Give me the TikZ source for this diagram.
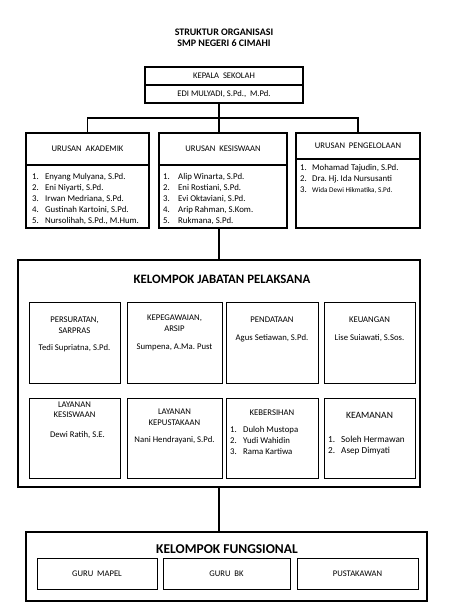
\documentclass[tikz,border=0pt]{standalone}
\usepackage{fontspec}
\setmainfont{Carlito}
\usetikzlibrary{positioning}

\begin{document}
\begin{tikzpicture}[x=1pt, y=-1pt,
      ttl/.style={font=\fontsize{10}{11}\selectfont\bfseries, align=center,
        inner sep=0pt},
      grp/.style={font=\fontsize{12.8}{14}\selectfont\bfseries, inner sep=0pt},
      hbox/.style={rectangle, draw, line width=1.3pt, inner sep=0pt,
        font=\fontsize{8.6}{10}\selectfont},
      obox/.style={rectangle, draw, line width=1.8pt, inner sep=0pt},
      sbox/.style={rectangle, draw, line width=0.7pt, inner sep=0pt,
        font=\fontsize{8.6}{10}\selectfont},
      txt/.style={font=\fontsize{8.7}{11}\selectfont, align=center, inner sep=0pt},
      lst/.style={font=\fontsize{8.8}{11}\selectfont, align=left, inner sep=0pt,
        anchor=north west},
      con/.style={draw, line width=1.4pt}
    ]
    \useasboundingbox (0,0) rectangle (448,615);
    % === Title ===
    \node[ttl] (title) at (224,37.5) {STRUKTUR ORGANISASI\\SMP NEGERI 6 CIMAHI};
    % === Kepala sekolah ===
    \node[hbox, minimum width=158pt, minimum height=18pt] (kps) at (224,76)
    {KEPALA\ \ SEKOLAH};
    \node[hbox, minimum width=158pt, minimum height=18pt] (kpn) at (224,94)
    {EDI MULYADI, S.Pd.,\ \ M.Pd.};
    % === Row 1: urusan ===
    \node[hbox, minimum width=123pt, minimum height=32pt] (ua) at (87.5,149)
    {URUSAN\ \ AKADEMIK};
    \node[hbox, minimum width=123pt, minimum height=63pt] (ua2) at (87.5,196.5) {};
    \node[hbox, minimum width=128pt, minimum height=32pt] (uk) at (223,149)
    {URUSAN\ \ KESISWAAN};
    \node[hbox, minimum width=128pt, minimum height=63pt] (uk2) at (223,196.5) {};
    \node[hbox, minimum width=124pt, minimum height=26pt] (up) at (358,146)
    {URUSAN\ \ PENGELOLAAN};
    \node[hbox, minimum width=124pt, minimum height=69pt] (up2) at (358,193.5) {};
    % lists
    \node[lst] (ual) at (32,173.5) {%
      \makebox[13pt][l]{1.}Enyang Mulyana,\ S.Pd.\\
      \makebox[13pt][l]{2.}Eni Niyarti,\ S.Pd.\\
      \makebox[13pt][l]{3.}Irwan Medriana,\ S.Pd.\\
      \makebox[13pt][l]{4.}Gustinah Kartoini,\ S.Pd.\\
      \makebox[13pt][l]{5.}Nursolihah,\ S.Pd.,\ M.Hum.};
    \node[lst] (ukl) at (163,173.5) {%
      \makebox[15pt][l]{1.}Alip Winarta, S.Pd.\\
      \makebox[15pt][l]{2.}Eni Rostiani, S.Pd.\\
      \makebox[15pt][l]{3.}Evi Oktaviani,\ S.Pd.\\
      \makebox[15pt][l]{4.}Arip Rahman,\ S.Kom.\\
      \makebox[15pt][l]{5.}Rukmana,\ S.Pd.};
    \node[lst] (upl) at (300,164.5) {%
      \makebox[12pt][l]{1.}Mohamad Tajudin,\ S.Pd.\\
      \makebox[12pt][l]{2.}Dra.\ Hj.\ Ida Nursusanti\\
      \makebox[12pt][l]{3.}{\fontsize{7.2}{11}\selectfont Wida Dewi Hikmatika, S.Pd.}};
    % === Kelompok jabatan pelaksana ===
    \node[obox, minimum width=402pt, minimum height=227pt] (jab) at (219,373.5) {};
    \node[grp] (jabt) at (222,279) {KELOMPOK JABATAN PELAKSANA};
    \node[sbox, minimum width=91pt, minimum height=81pt] (j1) at (74.5,342.5) {};
    \node[sbox, minimum width=95pt, minimum height=81pt] (j2) at (174.5,342.5) {};
    \node[sbox, minimum width=92pt, minimum height=81pt] (j3) at (272,342.5) {};
    \node[sbox, minimum width=91pt, minimum height=81pt] (j4) at (369.5,342.5) {};
    \node[sbox, minimum width=91pt, minimum height=80pt] (j5) at (74.5,438) {};
    \node[sbox, minimum width=95pt, minimum height=80pt] (j6) at (174.5,438) {};
    \node[sbox, minimum width=92pt, minimum height=80pt] (j7) at (272,438) {};
    \node[sbox, minimum width=91pt, minimum height=80pt] (j8) at (369.5,438) {};
    % texts, row 1
    \node[txt, below=15pt of j1.north] (j1a) {PERSURATAN,\\SARPRAS};
    \node[txt, below=43pt of j1.north] (j1b) {Tedi Supriatna, S.Pd.};
    \node[txt, below=13pt of j2.north] (j2a) {KEPEGAWAIAN,\\ARSIP};
    \node[txt, below=42pt of j2.north] (j2b) {Sumpena,\ A.Ma.\ Pust};
    \node[txt, below=15pt of j3.north] (j3a) {PENDATAAN};
    \node[txt, below=33pt of j3.north] (j3b) {Agus\ Setiawan, S.Pd.};
    \node[txt, below=15pt of j4.north] (j4a) {KEUANGAN};
    \node[txt, below=33pt of j4.north] (j4b) {Lise Suiawati,\ S.Sos.};
    % texts, row 2
    \node[txt, below=4pt of j5.north, font=\fontsize{8.7}{10}\selectfont] (j5a)
    {LAYANAN\\KESISWAAN};
    \node[txt, below=34pt of j5.north, xshift=3pt] (j5b) {Dewi Ratih, S.E.};
    \node[txt, below=11pt of j6.north] (j6a) {LAYANAN\\KEPUSTAKAAN};
    \node[txt, below=39pt of j6.north] (j6b) {Nani Hendrayani, S.Pd.};
    \node[txt, below=12pt of j7.north] (j7a) {KEBERSIHAN};
    \node[lst] (j7l) at (230,426.5) {%
      \makebox[13pt][l]{1.}Duloh Mustopa\\
      \makebox[13pt][l]{2.}Yudi Wahidin\\
      \makebox[13pt][l]{3.}Rama Kartiwa};
    \node[txt, below=14pt of j8.north, font=\fontsize{9.6}{11}\selectfont] (j8a)
    {KEAMANAN};
    \node[lst, font=\fontsize{9.2}{11}\selectfont] (j8l) at (328,436) {%
      \makebox[13pt][l]{1.}Soleh\ Hermawan\\
      \makebox[13pt][l]{2.}Asep Dimyati};
    % === Kelompok fungsional ===
    \node[obox, minimum width=401pt, minimum height=69pt] (fun) at (226.5,566.5) {};
    \node[grp, font=\fontsize{13.5}{15}\selectfont\bfseries] (funt) at (227,549)
    {KELOMPOK FUNGSIONAL};
    \node[sbox, minimum width=120pt, minimum height=31pt] (f1) at (97,573.5)
    {GURU\ \ MAPEL};
    \node[sbox, minimum width=127pt, minimum height=31pt] (f2) at (226.5,573.5)
    {GURU\ \ BK};
    \node[sbox, minimum width=121pt, minimum height=31pt] (f3) at (357.5,573.5)
    {PUSTAKAWAN};
    % === Connectors ===
    \coordinate (bar) at (219,118);
    \draw[con] (bar |- kpn.south) -- (bar);
    \draw[con] (ua.north) |- (bar) -| (up.north);
    \draw[con] (bar) -- (bar |- uk.north);
    \draw[con] (uk2.south -| jab.north) -- (jab.north);
    \draw[con] (jab.south) -- (jab.south |- fun.north);
  \end{tikzpicture}
\end{document}
